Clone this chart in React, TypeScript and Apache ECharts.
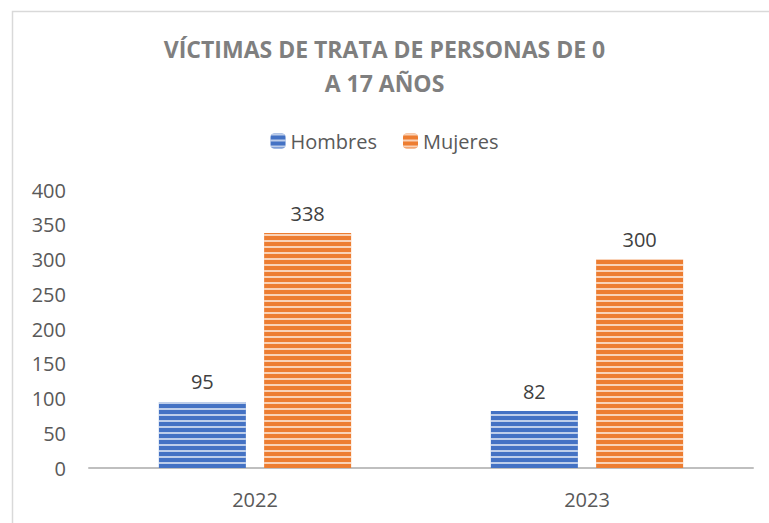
import React, { useEffect, useRef } from "react";
import * as echarts from "echarts";

const categories = ["2022", "2023"];
const hombres = [95, 82];
const mujeres = [338, 300];
const yTicks = [0, 50, 100, 150, 200, 250, 300, 350, 400];

export default function App() {
  const ref = useRef<HTMLDivElement>(null);
  useEffect(() => {
    const chart = echarts.init(ref.current!, null, { renderer: "svg" });
    const decal = {
      symbol: "rect",
      symbolSize: 1,
      dashArrayX: [1, 0],
      dashArrayY: [2, 4],
      rotation: 0,
      color: "rgba(255,255,255,0.65)",
    };
    const labelFont = { fontFamily: "Open Sans", fontSize: 20, color: "#404040" };
    chart.setOption({
      animation: false,
      aria: { enabled: true, decal: { show: true }, label: { enabled: false } },
      backgroundColor: "#ffffff",
      title: {
        text: "VÍCTIMAS DE TRATA DE PERSONAS DE 0\nA 17 AÑOS",
        left: "center",
        top: 27,
        textStyle: {
          fontFamily: "Open Sans",
          fontWeight: "bold",
          fontSize: 23,
          color: "#7f7f7f",
          lineHeight: 34,
        },
      },
      legend: {
        top: 126,
        left: "center",
        itemWidth: 15,
        itemHeight: 15,
        itemGap: 26,
        textStyle: { fontFamily: "Open Sans", fontSize: 20, color: "#595959" },
        data: ["Hombres", "Mujeres"],
      },
      grid: { left: 89, right: 16, top: 190, bottom: 55, containLabel: false },
      xAxis: {
        type: "category",
        data: categories,
        axisLine: { lineStyle: { color: "#bfbfbf", width: 2 } },
        axisTick: { show: false },
        axisLabel: {
          fontFamily: "Open Sans",
          fontSize: 20,
          color: "#595959",
          margin: 21,
        },
      },
      yAxis: {
        type: "value",
        min: yTicks[0],
        max: yTicks[yTicks.length - 1],
        interval: 50,
        axisLine: { show: false },
        axisTick: { show: false },
        splitLine: { show: false },
        axisLabel: {
          fontFamily: "Open Sans",
          fontSize: 20,
          color: "#595959",
          margin: 23,
        },
      },
      series: [
        {
          name: "Hombres",
          type: "bar",
          data: hombres,
          barWidth: 87,
          barGap: "21%",
          itemStyle: { color: "#4472C4", decal },
          label: { show: true, position: "top", distance: 10, ...labelFont },
        },
        {
          name: "Mujeres",
          type: "bar",
          data: mujeres,
          barWidth: 87,
          itemStyle: { color: "#ED7D31", decal },
          label: { show: true, position: "top", distance: 10, ...labelFont },
        },
      ],
      graphic: [
        {
          type: "rect",
          shape: { x: 12.5, y: 11.5, width: 800, height: 600 },
          style: { fill: "none", stroke: "#d9d9d9", lineWidth: 1.5 },
          silent: true,
        },
      ],
    });
    return () => chart.dispose();
  }, []);
  return <div ref={ref} style={{ width: 769, height: 523, position: "absolute", left: 0, top: 0 }} />;
}
